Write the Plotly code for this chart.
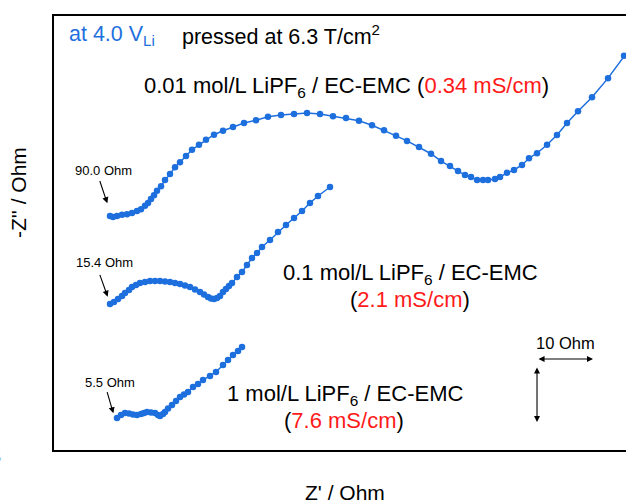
import plotly.graph_objects as go

# ---- data (Ohm, curves shifted for display) ----
zre_001 = [10.0, 10.54, 11.25, 12.14, 13.04, 13.93, 14.82, 15.54, 16.25, 16.79, 17.32, 17.86, 18.39, 19.11,
           19.82, 20.71, 21.61, 22.5, 23.57, 24.64, 25.89, 27.14, 28.57, 30.18, 31.96, 33.93, 36.07, 38.21,
           40.54, 42.86, 45.18, 47.5, 49.82, 52.14, 54.46, 56.79, 58.93, 61.07, 63.04, 65.18, 67.32, 69.11,
           70.71, 72.14, 73.39, 74.46, 75.54, 76.61, 77.5, 78.75, 79.64, 80.89, 82.14, 83.57, 84.82, 86.25,
           88.04, 89.82, 91.61, 93.57, 96.07, 98.93, 101.79, 104.6]
zim_001 = [41.8, 41.6, 41.8, 42.0, 42.1, 42.3, 42.7, 43.0, 43.6, 44.1, 44.8, 45.5, 46.3, 47.1,
           48.2, 49.3, 50.5, 51.4, 52.5, 53.6, 54.5, 55.4, 56.3, 57.0, 57.7, 58.4, 58.9, 59.5,
           59.8, 60.0, 60.2, 60.0, 59.6, 59.3, 58.8, 58.0, 57.1, 56.1, 55.2, 54.1, 52.9, 51.6,
           50.7, 49.8, 49.1, 48.75, 48.2, 48.2, 48.2, 48.4, 48.75, 49.5, 50.0, 50.9, 52.1, 53.0,
           54.5, 56.25, 58.4, 60.5, 63.0, 66.4, 70.4, 74.1]

zre_01 = [10.0, 10.71, 11.43, 12.14, 12.68, 13.39, 13.93, 14.64, 15.36, 16.25, 17.14, 18.04, 18.93, 19.82,
          20.71, 21.61, 22.5, 23.39, 24.29, 25.18, 26.07, 26.79, 27.5, 28.04, 28.57, 29.11, 29.64, 30.18,
          30.71, 31.25, 31.79, 32.68, 33.57, 34.46, 35.36, 36.25, 37.14, 38.57, 40.0, 41.43, 42.86, 44.29,
          45.71, 47.14, 49.29]
zim_01 = [26.07, 26.43, 26.96, 27.5, 28.04, 28.57, 29.1, 29.46, 29.82, 30.0, 30.18, 30.18, 30.18, 30.09,
          30.0, 29.82, 29.64, 29.38, 29.1, 28.66, 28.21, 27.77, 27.32, 27.05, 26.96, 27.14, 27.5, 28.21,
          28.75, 29.29, 29.82, 30.89, 31.79, 33.04, 34.29, 35.18, 36.25, 37.5, 38.93, 40.18, 41.43, 42.68,
          44.11, 45.36, 46.96]

zre_1 = [11.25, 11.96, 12.68, 13.39, 14.11, 14.82, 15.54, 16.07, 16.61, 17.32, 18.04, 18.57, 18.93, 19.46,
         19.82, 20.36, 21.07, 21.79, 22.5, 23.21, 23.93, 24.82, 25.71, 26.61, 27.86, 28.93, 30.18, 31.07,
         31.96, 32.86, 33.57]
zim_1 = [5.71, 6.25, 6.61, 6.52, 6.34, 6.25, 6.43, 6.61, 6.79, 6.7, 6.61, 6.25, 6.07, 6.43,
         6.79, 7.41, 8.04, 8.75, 9.46, 9.91, 10.36, 11.25, 11.79, 12.5, 13.21, 13.93, 15.18, 16.07,
         16.96, 17.68, 18.39]

r_labels = ["90.0 Ohm", "15.4 Ohm", "5.5 Ohm"]
scale_ohm = 10

BLUE = "#1e6fde"
RED = "#ff1a1a"
FONT = "Liberation Sans, Arial, sans-serif"

fig = go.Figure()
for xs, ys in [(zre_001, zim_001), (zre_01, zim_01), (zre_1, zim_1)]:
    fig.add_trace(go.Scatter(x=xs, y=ys, mode="lines+markers",
                             line=dict(color=BLUE, width=1.5),
                             marker=dict(color=BLUE, size=6.5),
                             showlegend=False, hoverinfo="skip"))

ann = []
def text(x, y, t, size, color="black", **kw):
    d = dict(x=x, y=y, xref="x", yref="y", text=t, showarrow=False,
             font=dict(family=FONT, size=size, color=color))
    d.update(kw)
    ann.append(d)

def arrow(x0, y0, x1, y1, both=False):
    ann.append(dict(x=x1, y=y1, ax=x0, ay=y0, xref="x", yref="y", axref="x", ayref="y",
                    text="", showarrow=True, arrowhead=2, arrowsize=1.1, arrowwidth=1.1,
                    arrowcolor="black", standoff=0, startstandoff=0,
                    startarrowhead=2, startarrowsize=1.1,
                    arrowside="end+start" if both else "end"))

# resistance labels
text(8.84, 50.0, r_labels[0], 13)
arrow(8.09, 48.3, 9.52, 44.05)
text(9.02, 33.4, r_labels[1], 13)
arrow(8.09, 31.55, 9.59, 27.38)
text(10.0, 12.05, r_labels[2], 13)
arrow(9.41, 10.59, 10.6, 6.55)

# curve labels
text(52.3, 64.9, f"0.01 mol/L LiPF<sub>6</sub> / EC-EMC (<span style='color:{RED}'>0.34 mS/cm</span>)", 22)
text(63.6, 31.4, "0.1 mol/L LiPF<sub>6</sub> / EC-EMC", 22)
text(63.6, 26.8, f"(<span style='color:{RED}'>2.1 mS/cm</span>)", 22)
text(52.0, 9.8, "1 mol/L LiPF<sub>6</sub> / EC-EMC", 22)
text(51.8, 5.2, f"(<span style='color:{RED}'>7.6 mS/cm</span>)", 22)

# header texts
text(2.3, 74.1, "at 4.0 V<sub>Li</sub>", 21.5, BLUE, xanchor="left")
text(22.5, 74.1, "pressed at 6.3 T/cm<sup>2</sup>", 21.5, xanchor="left")

# scale bar
text(86.25 + scale_ohm / 2, 19.1, f"{scale_ohm} Ohm", 16.5)
arrow(86.25, 16.25, 86.25 + scale_ohm, 16.25, both=True)
arrow(86.25, 15.0, 86.25, 15.0 - scale_ohm, both=True)

# axis titles
ann.append(dict(x=0, y=1, xref="paper", yref="paper", xshift=-36, yshift=-177,
                xanchor="center", yanchor="middle",
                text="-Z'' / Ohm", showarrow=False, textangle=-90,
                font=dict(family=FONT, size=21, color="black")))
ann.append(dict(x=0, y=0, xref="paper", yref="paper", xshift=291, yshift=-42,
                xanchor="center", yanchor="middle",
                text="Z' / Ohm", showarrow=False,
                font=dict(family=FONT, size=21, color="black")))
ann.append(dict(x=0, y=0, xref="paper", yref="paper", xshift=-51, yshift=-8,
                xanchor="right", yanchor="middle", text="5", showarrow=False,
                font=dict(family=FONT, size=12, color="black")))

fig.update_layout(
    width=626, height=503,
    margin=dict(l=54, r=0, t=16, b=53),
    paper_bgcolor="white", plot_bgcolor="white",
    annotations=ann,
    xaxis=dict(range=[0, 102.14], showline=True, mirror=True, linecolor="black", linewidth=2,
               showgrid=False, zeroline=False, showticklabels=False, ticks=""),
    yaxis=dict(range=[0, 77.5], showline=True, mirror=False, linecolor="black", linewidth=2,
               showgrid=False, zeroline=False, showticklabels=False, ticks=""),
)
fig.write_html("out.html", config={"displayModeBar": False},
               post_script="document.body.style.margin='0';")
